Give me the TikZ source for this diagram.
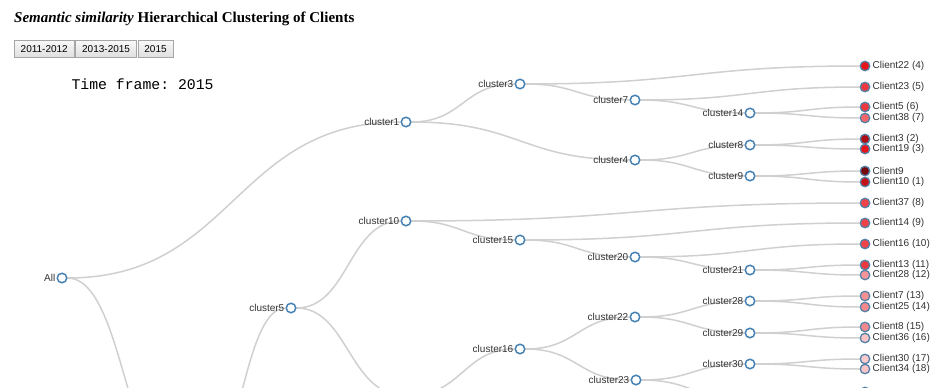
\documentclass[tikz,border=0pt]{standalone}
\usepackage{fontspec}
\setmainfont{Liberation Serif}
\setsansfont{Liberation Sans}
\setmonofont{Liberation Mono}
\usetikzlibrary{positioning,calc}
\pgfdeclarelayer{bg}
\pgfsetlayers{bg,main}
\definecolor{steel}{HTML}{4682B4}
\definecolor{linkgray}{HTML}{D0D0D0}
\definecolor{cred}{HTML}{E8141C}
\definecolor{txt}{HTML}{333333}

\begin{document}
\begin{tikzpicture}[x=1pt, y=-1pt, font=\sffamily\fontsize{10}{12}\selectfont,
    lbl/.style={text=txt, inner sep=1pt},
    inner/.style={circle, draw=steel, fill=white, line width=1.5pt,
      minimum size=9.5pt, inner sep=0pt, label={[lbl]left:#1}},
    leaf/.style 2 args={circle, draw=steel!75!gray, fill=#1, line width=1.3pt,
      minimum size=9.5pt, inner sep=0pt, label={[lbl, inner sep=2pt]right:#2}},
    link/.style={draw=linkgray, line width=1.5pt,
      to path={.. controls ($(\tikztostart)!.5!(\tikztostart -| \tikztotarget)$)
        and ($(\tikztotarget)!.5!(\tikztotarget -| \tikztostart)$) .. (\tikztotarget)}},
    btn/.style={draw=gray!70, top color=gray!5, bottom color=gray!25,
      minimum height=17pt, inner xsep=6.5pt, inner ysep=0pt, text=black}]
  \useasboundingbox (0,0) rectangle (930,388);
  \clip (0,0) rectangle (930,388);
  % header
  \node[anchor=base west, inner sep=0pt, font=\rmfamily\bfseries\fontsize{15}{17}\selectfont]
  (title) at (14,22) {\textit{Semantic similarity} Hierarchical Clustering of Clients};%
  \node[btn, anchor=north west] (b1) at (14,40) {2011-2012};%
  \node[btn, right=1pt of b1] (b2) {2013-2015};%
  \node[btn, right=1pt of b2] (b3) {2015};%
  \node[anchor=west, font=\ttfamily\fontsize{14.8}{16}\selectfont] (tf) at (68,84)
  {Time frame: 2015};%
  % clusters
  \node[inner=All] (all) at (62,278) {};%
  \node[inner=cluster1] (c1) at (406,122) {};%
  \node[inner=cluster3] (c3) at (520,84) {};%
  \node[inner=cluster7] (c7) at (635,100) {};%
  \node[inner=cluster4] (c4) at (635,160) {};%
  \node[inner=cluster14] (c14) at (750,113) {};%
  \node[inner=cluster8] (c8) at (750,145) {};%
  \node[inner=cluster9] (c9) at (750,176) {};%
  \node[inner=cluster5] (c5) at (291,308) {};%
  \node[inner=cluster10] (c10) at (406,221) {};%
  \node[inner=cluster15] (c15) at (520,240) {};%
  \node[inner=cluster20] (c20) at (635,257) {};%
  \node[inner=cluster21] (c21) at (750,270) {};%
  \node[inner=cluster16] (c16) at (520,349) {};%
  \node[inner=cluster22] (c22) at (635,317) {};%
  \node[inner=cluster23] (c23) at (636,380) {};%
  \node[inner=cluster28] (c28) at (750,301) {};%
  \node[inner=cluster29] (c29) at (750,333) {};%
  \node[inner=cluster30] (c30) at (750,364) {};%
  \coordinate (c2) at (190,490);%
  \coordinate (c11) at (406,396);%
  \coordinate (c31) at (750,400);%
  % clients
  \node[leaf={cred}{Client22 (4)}] (cl22) at (865,66) {};%
  \node[leaf={cred!85}{Client23 (5)}] (cl23) at (865,87) {};%
  \node[leaf={cred!85}{Client5 (6)}] (cl5) at (865,107) {};%
  \node[leaf={cred!65}{Client38 (7)}] (cl38) at (865,118) {};%
  \node[leaf={cred!75!black}{Client3 (2)}] (cl3) at (865,139) {};%
  \node[leaf={cred}{Client19 (3)}] (cl19) at (865,149) {};%
  \node[leaf={cred!50!black}{Client9}] (cl9) at (865,171) {};%
  \node[leaf={cred!85!black}{Client10 (1)}] (cl10) at (865,182) {};%
  \node[leaf={cred!80}{Client37 (8)}] (cl37) at (865,203) {};%
  \node[leaf={cred!80}{Client14 (9)}] (cl14) at (865,223) {};%
  \node[leaf={cred!80}{Client16 (10)}] (cl16) at (865,244) {};%
  \node[leaf={cred!85}{Client13 (11)}] (cl13) at (865,265) {};%
  \node[leaf={cred!45}{Client28 (12)}] (cl28) at (865,275) {};%
  \node[leaf={cred!47}{Client7 (13)}] (cl7) at (865,296) {};%
  \node[leaf={cred!50}{Client25 (14)}] (cl25) at (865,307) {};%
  \node[leaf={cred!50}{Client8 (15)}] (cl8) at (865,327) {};%
  \node[leaf={cred!25}{Client36 (16)}] (cl36) at (865,338) {};%
  \node[leaf={cred!22}{Client30 (17)}] (cl30) at (865,359) {};%
  \node[leaf={cred!25}{Client34 (18)}] (cl34) at (865,369) {};%
  \node[leaf={cred!15}{}] (clx) at (865,392) {};%
  % links, under the nodes and labels
  \begin{pgfonlayer}{bg}
  \fill[white] (0,0) rectangle (930,388);
  \clip (0,0) rectangle (930,388);
  \path[link] (all) edge (c1) edge (c2);%
  \path[link] (c2) edge (c5);%
  \path[link] (c1) edge (c3) edge (c4);%
  \path[link] (c3) edge (cl22) edge (c7);%
  \path[link] (c7) edge (cl23) edge (c14);%
  \path[link] (c14) edge (cl5) edge (cl38);%
  \path[link] (c4) edge (c8) edge (c9);%
  \path[link] (c8) edge (cl3) edge (cl19);%
  \path[link] (c9) edge (cl9) edge (cl10);%
  \path[link] (c5) edge (c10) edge (c11);%
  \path[link] (c10) edge (cl37) edge (c15);%
  \path[link] (c15) edge (cl14) edge (c20);%
  \path[link] (c20) edge (cl16) edge (c21);%
  \path[link] (c21) edge (cl13) edge (cl28);%
  \path[link] (c11) edge (c16);%
  \path[link] (c16) edge (c22) edge (c23);%
  \path[link] (c22) edge (c28) edge (c29);%
  \path[link] (c28) edge (cl7) edge (cl25);%
  \path[link] (c29) edge (cl8) edge (cl36);%
  \path[link] (c23) edge (c30) edge (c31);%
  \path[link] (c30) edge (cl30) edge (cl34);%
  \path[link] (c31) edge (clx);%
  \end{pgfonlayer}
\end{tikzpicture}
\end{document}
